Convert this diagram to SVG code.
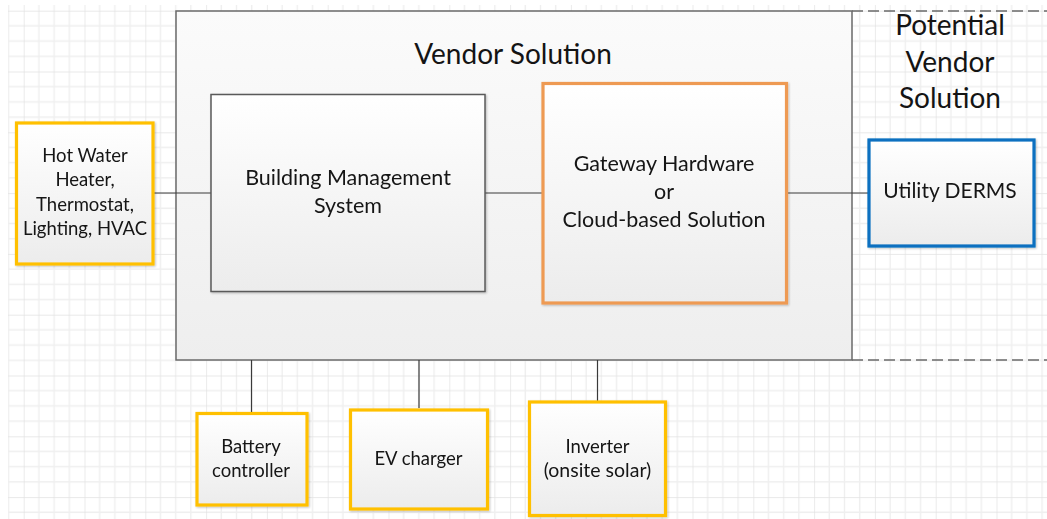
<svg xmlns="http://www.w3.org/2000/svg" width="1047" height="519" viewBox="0 0 1047 519">
  <defs>
    <!-- drawing-paper grid: major every 60.8px, minor every 15.2px -->
    <pattern id="grid" patternUnits="userSpaceOnUse" x="23.7" y="10.7" width="60.8" height="60.8">
      <path d="M15.2 0V60.8M30.4 0V60.8M45.6 0V60.8M0 15.2H60.8M0 30.4H60.8M0 45.6H60.8" stroke="#efefef" stroke-width="1.4" fill="none"/>
      <path d="M0 0V60.8M0 0H60.8" stroke="#e2e2e2" stroke-width="1.4" fill="none"/>
    </pattern>
    <linearGradient id="fillNode" x1="0" y1="0" x2="0" y2="1">
      <stop offset="0" stop-color="#ffffff"/>
      <stop offset="1" stop-color="#ececec"/>
    </linearGradient>
    <linearGradient id="fillOuter" x1="0" y1="0" x2="0" y2="1">
      <stop offset="0" stop-color="#fbfbfb"/>
      <stop offset="1" stop-color="#eeeeee"/>
    </linearGradient>
    <filter id="soft" x="-10%" y="-10%" width="120%" height="120%">
      <feGaussianBlur in="SourceAlpha" stdDeviation="1.2"/>
      <feOffset dx="0.5" dy="0.8"/>
      <feComponentTransfer><feFuncA type="linear" slope="0.25"/></feComponentTransfer>
      <feMerge><feMergeNode/><feMergeNode in="SourceGraphic"/></feMerge>
    </filter>
  </defs>
  <style>
    text { font-family: Lato, "Liberation Sans", sans-serif; fill: #141414; text-anchor: middle; }
    .gray { fill: url(#fillNode); stroke: #5a5a5a; stroke-width: 1.5; }
    .yellow { fill: url(#fillNode); stroke: #ffc000; stroke-width: 3.2; }
    .orange { fill: url(#fillNode); stroke: #ee9a52; stroke-width: 3.2; }
    .blue { fill: url(#fillNode); stroke: #0a70c0; stroke-width: 3.2; }
    .wire { stroke: #3a3a3a; stroke-width: 1.2; fill: none; }
    .dash { stroke: #6a6a6a; stroke-width: 1.5; stroke-dasharray: 11 5; fill: none; }
    .small { font-size: 18.5px; }
    .mid { font-size: 21.5px; }
    .big { font-size: 28px; }
  </style>

  <rect width="1047" height="519" fill="#ffffff"/>
  <rect x="8" y="5" width="1039" height="514" fill="url(#grid)"/>

  <!-- outer vendor boundary and the dashed extension to the right -->
  <g id="vendor-solution">
    <rect x="176" y="11" width="676" height="349" fill="url(#fillOuter)" stroke="#6a6a6a" stroke-width="1.5"/>
    <text class="big" x="513" y="64">Vendor Solution</text>
  </g>
  <g id="potential-vendor-solution">
    <path class="dash" d="M852 11H1047M852 360H1047"/>
    <text class="big" x="950" y="35">Potential</text>
    <text class="big" x="950" y="72">Vendor</text>
    <text class="big" x="950" y="108">Solution</text>
  </g>

  <!-- connectors -->
  <g id="connectors">
    <path class="wire" d="M154 193H211"/>
    <path class="wire" d="M485 193H543"/>
    <path class="wire" d="M787 193H869"/>
    <path class="wire" d="M251.5 360V412"/>
    <path class="wire" d="M419 360V408"/>
    <path class="wire" d="M597.5 360V401"/>
  </g>

  <g id="hot-water" filter="url(#soft)">
    <rect class="yellow" x="16.5" y="123" width="136.5" height="141"/>
    <text class="small" x="85" y="162">Hot Water</text>
    <text class="small" x="85" y="186">Heater,</text>
    <text class="small" x="85" y="210.5">Thermostat,</text>
    <text class="small" x="85" y="235">Lighting, HVAC</text>
  </g>

  <g id="bms" filter="url(#soft)">
    <rect class="gray" x="211" y="94.5" width="274" height="197"/>
    <text class="mid" x="348" y="185">Building Management</text>
    <text class="mid" x="348" y="213">System</text>
  </g>

  <g id="gateway" filter="url(#soft)">
    <rect class="orange" x="543" y="83.5" width="243.5" height="219.5"/>
    <text class="mid" x="664" y="171">Gateway Hardware</text>
    <text class="mid" x="664" y="199">or</text>
    <text class="mid" x="664" y="227">Cloud-based Solution</text>
  </g>

  <g id="utility-derms" filter="url(#soft)">
    <rect class="blue" x="869" y="140" width="165" height="106"/>
    <text x="950" y="198" font-size="21">Utility DERMS</text>
  </g>

  <g id="battery-controller" filter="url(#soft)">
    <rect class="yellow" x="197" y="413.5" width="110" height="91.5"/>
    <text class="small" x="251" y="453">Battery</text>
    <text class="small" x="251" y="476.5">controller</text>
  </g>

  <g id="ev-charger" filter="url(#soft)">
    <rect class="yellow" x="350.5" y="410" width="137" height="99"/>
    <text class="small" x="418.5" y="465">EV charger</text>
  </g>

  <g id="inverter" filter="url(#soft)">
    <rect class="yellow" x="529.5" y="402" width="136" height="113.5"/>
    <text class="small" x="597.5" y="453">Inverter</text>
    <text x="597.5" y="476.5" font-size="19.5">(onsite solar)</text>
  </g>
</svg>
